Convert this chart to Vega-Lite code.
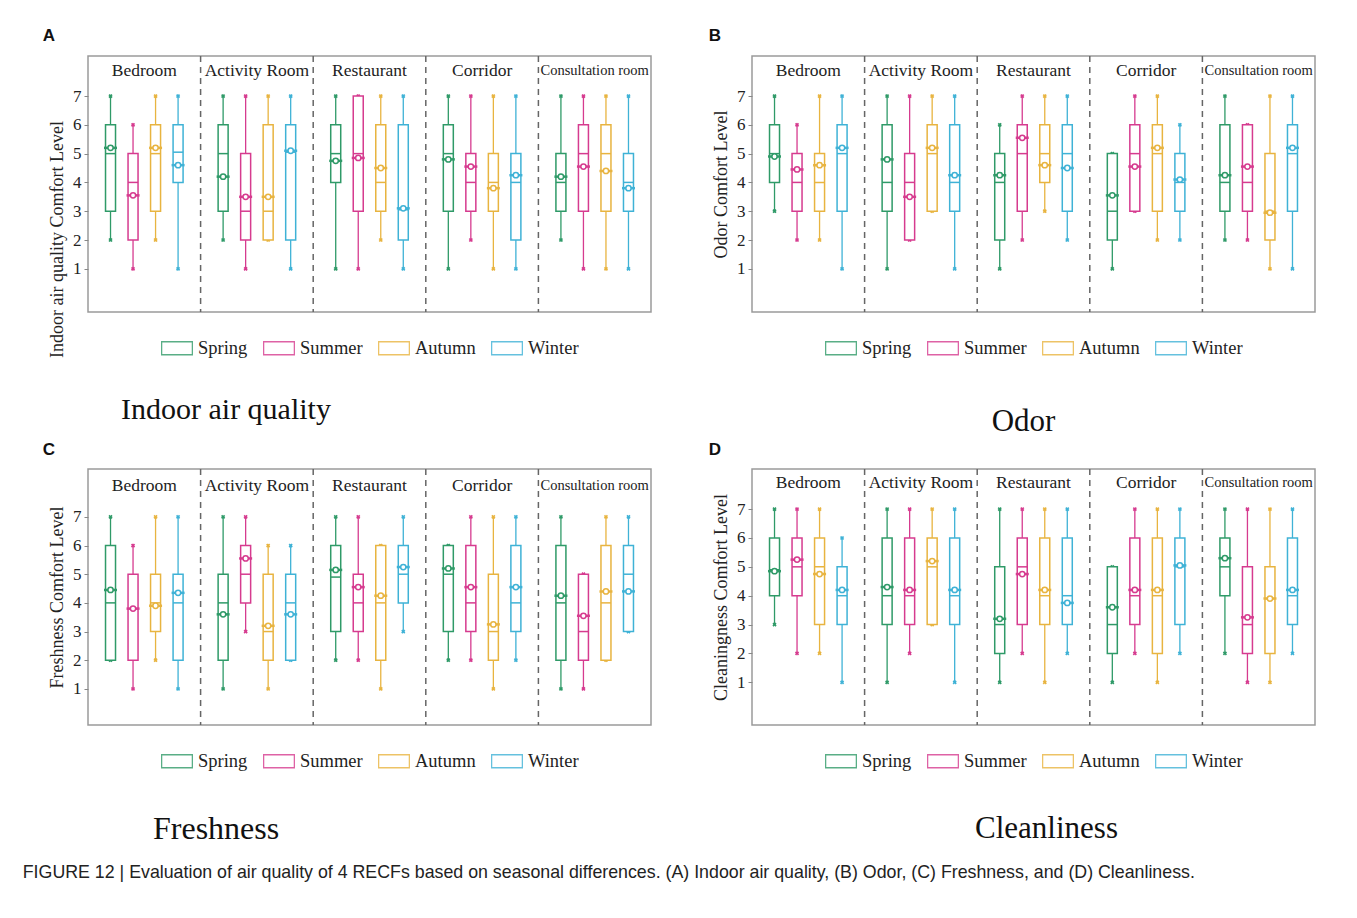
{
  "$schema": "https://vega.github.io/schema/vega-lite/v6.json",
  "background": "white",
  "padding": {"left": 22, "top": 26, "right": 10, "bottom": 30},
  "title": {"text": "FIGURE 12 | Evaluation of air quality of 4 RECFs based on seasonal differences. (A) Indoor air quality, (B) Odor, (C) Freshness, and (D) Cleanliness.", "orient": "bottom", "anchor": "start", "frame": "bounds", "font": "Liberation Sans", "fontSize": 17.8, "fontWeight": "normal", "color": "#222", "offset": 18, "dx": -20},
  "datasets": {
    "rooms": [{"room": "Bedroom"}, {"room": "Activity Room"}, {"room": "Restaurant"}, {"room": "Corridor"}, {"room": "Consultation room"}],
    "seps": [{"room": "Activity Room"}, {"room": "Restaurant"}, {"room": "Corridor"}, {"room": "Consultation room"}],
    "iaq": [
      {"room": "Bedroom", "season": "Spring", "min": 2, "q1": 3, "med": 5, "q3": 6, "max": 7, "mean": 5.2},
      {"room": "Bedroom", "season": "Summer", "min": 1, "q1": 2, "med": 4, "q3": 5, "max": 6, "mean": 3.55},
      {"room": "Bedroom", "season": "Autumn", "min": 2, "q1": 3, "med": 5, "q3": 6, "max": 7, "mean": 5.2},
      {"room": "Bedroom", "season": "Winter", "min": 1, "q1": 4, "med": 5.05, "q3": 6, "max": 7, "mean": 4.6},
      {"room": "Activity Room", "season": "Spring", "min": 2, "q1": 3, "med": 5, "q3": 6, "max": 7, "mean": 4.2},
      {"room": "Activity Room", "season": "Summer", "min": 1, "q1": 2, "med": 3, "q3": 5, "max": 7, "mean": 3.5},
      {"room": "Activity Room", "season": "Autumn", "min": 2, "q1": 2, "med": 3, "q3": 6, "max": 7, "mean": 3.5},
      {"room": "Activity Room", "season": "Winter", "min": 1, "q1": 2, "med": 5.05, "q3": 6, "max": 7, "mean": 5.1},
      {"room": "Restaurant", "season": "Spring", "min": 1, "q1": 4, "med": 5, "q3": 6, "max": 7, "mean": 4.75},
      {"room": "Restaurant", "season": "Summer", "min": 1, "q1": 3, "med": 5, "q3": 7, "max": 7, "mean": 4.85},
      {"room": "Restaurant", "season": "Autumn", "min": 2, "q1": 3, "med": 4, "q3": 6, "max": 7, "mean": 4.5},
      {"room": "Restaurant", "season": "Winter", "min": 1, "q1": 2, "med": 3.05, "q3": 6, "max": 7, "mean": 3.1},
      {"room": "Corridor", "season": "Spring", "min": 1, "q1": 3, "med": 5, "q3": 6, "max": 7, "mean": 4.8},
      {"room": "Corridor", "season": "Summer", "min": 2, "q1": 3, "med": 4, "q3": 5, "max": 7, "mean": 4.55},
      {"room": "Corridor", "season": "Autumn", "min": 1, "q1": 3, "med": 4, "q3": 5, "max": 7, "mean": 3.8},
      {"room": "Corridor", "season": "Winter", "min": 1, "q1": 2, "med": 4, "q3": 5, "max": 7, "mean": 4.25},
      {"room": "Consultation room", "season": "Spring", "min": 2, "q1": 3, "med": 4, "q3": 5, "max": 7, "mean": 4.2},
      {"room": "Consultation room", "season": "Summer", "min": 1, "q1": 3, "med": 5, "q3": 6, "max": 7, "mean": 4.55},
      {"room": "Consultation room", "season": "Autumn", "min": 1, "q1": 3, "med": 5, "q3": 6, "max": 7, "mean": 4.4},
      {"room": "Consultation room", "season": "Winter", "min": 1, "q1": 3, "med": 4, "q3": 5, "max": 7, "mean": 3.8}
    ],
    "odor": [
      {"room": "Bedroom", "season": "Spring", "min": 3, "q1": 4, "med": 5, "q3": 6, "max": 7, "mean": 4.9},
      {"room": "Bedroom", "season": "Summer", "min": 2, "q1": 3, "med": 4, "q3": 5, "max": 6, "mean": 4.45},
      {"room": "Bedroom", "season": "Autumn", "min": 2, "q1": 3, "med": 4, "q3": 5, "max": 7, "mean": 4.6},
      {"room": "Bedroom", "season": "Winter", "min": 1, "q1": 3, "med": 5, "q3": 6, "max": 7, "mean": 5.2},
      {"room": "Activity Room", "season": "Spring", "min": 1, "q1": 3, "med": 4, "q3": 6, "max": 7, "mean": 4.8},
      {"room": "Activity Room", "season": "Summer", "min": 2, "q1": 2, "med": 4, "q3": 5, "max": 7, "mean": 3.5},
      {"room": "Activity Room", "season": "Autumn", "min": 3, "q1": 3, "med": 5, "q3": 6, "max": 7, "mean": 5.2},
      {"room": "Activity Room", "season": "Winter", "min": 1, "q1": 3, "med": 4, "q3": 6, "max": 7, "mean": 4.25},
      {"room": "Restaurant", "season": "Spring", "min": 1, "q1": 2, "med": 4, "q3": 5, "max": 6, "mean": 4.25},
      {"room": "Restaurant", "season": "Summer", "min": 2, "q1": 3, "med": 5, "q3": 6, "max": 7, "mean": 5.55},
      {"room": "Restaurant", "season": "Autumn", "min": 3, "q1": 4, "med": 5, "q3": 6, "max": 7, "mean": 4.6},
      {"room": "Restaurant", "season": "Winter", "min": 2, "q1": 3, "med": 5, "q3": 6, "max": 7, "mean": 4.5},
      {"room": "Corridor", "season": "Spring", "min": 1, "q1": 2, "med": 3, "q3": 5, "max": 5, "mean": 3.55},
      {"room": "Corridor", "season": "Summer", "min": 3, "q1": 3, "med": 5, "q3": 6, "max": 7, "mean": 4.55},
      {"room": "Corridor", "season": "Autumn", "min": 2, "q1": 3, "med": 5, "q3": 6, "max": 7, "mean": 5.2},
      {"room": "Corridor", "season": "Winter", "min": 2, "q1": 3, "med": 4, "q3": 5, "max": 6, "mean": 4.1},
      {"room": "Consultation room", "season": "Spring", "min": 2, "q1": 3, "med": 4, "q3": 6, "max": 7, "mean": 4.25},
      {"room": "Consultation room", "season": "Summer", "min": 2, "q1": 3, "med": 4, "q3": 6, "max": 6, "mean": 4.55},
      {"room": "Consultation room", "season": "Autumn", "min": 1, "q1": 2, "med": 3, "q3": 5, "max": 7, "mean": 2.95},
      {"room": "Consultation room", "season": "Winter", "min": 1, "q1": 3, "med": 5, "q3": 6, "max": 7, "mean": 5.2}
    ],
    "fresh": [
      {"room": "Bedroom", "season": "Spring", "min": 2, "q1": 2, "med": 4, "q3": 6, "max": 7, "mean": 4.45},
      {"room": "Bedroom", "season": "Summer", "min": 1, "q1": 2, "med": 3.8, "q3": 5, "max": 6, "mean": 3.8},
      {"room": "Bedroom", "season": "Autumn", "min": 2, "q1": 3, "med": 4, "q3": 5, "max": 7, "mean": 3.9},
      {"room": "Bedroom", "season": "Winter", "min": 1, "q1": 2, "med": 4, "q3": 5, "max": 7, "mean": 4.35},
      {"room": "Activity Room", "season": "Spring", "min": 1, "q1": 2, "med": 4, "q3": 5, "max": 7, "mean": 3.6},
      {"room": "Activity Room", "season": "Summer", "min": 3, "q1": 4, "med": 5, "q3": 6, "max": 7, "mean": 5.55},
      {"room": "Activity Room", "season": "Autumn", "min": 1, "q1": 2, "med": 3, "q3": 5, "max": 6, "mean": 3.2},
      {"room": "Activity Room", "season": "Winter", "min": 2, "q1": 2, "med": 4, "q3": 5, "max": 6, "mean": 3.6},
      {"room": "Restaurant", "season": "Spring", "min": 2, "q1": 3, "med": 4.9, "q3": 6, "max": 7, "mean": 5.15},
      {"room": "Restaurant", "season": "Summer", "min": 2, "q1": 3, "med": 4, "q3": 5, "max": 7, "mean": 4.55},
      {"room": "Restaurant", "season": "Autumn", "min": 1, "q1": 2, "med": 4, "q3": 6, "max": 6, "mean": 4.25},
      {"room": "Restaurant", "season": "Winter", "min": 3, "q1": 4, "med": 5, "q3": 6, "max": 7, "mean": 5.25},
      {"room": "Corridor", "season": "Spring", "min": 2, "q1": 3, "med": 5, "q3": 6, "max": 6, "mean": 5.2},
      {"room": "Corridor", "season": "Summer", "min": 2, "q1": 3, "med": 4, "q3": 6, "max": 7, "mean": 4.55},
      {"room": "Corridor", "season": "Autumn", "min": 1, "q1": 2, "med": 3, "q3": 5, "max": 7, "mean": 3.25},
      {"room": "Corridor", "season": "Winter", "min": 2, "q1": 3, "med": 4, "q3": 6, "max": 7, "mean": 4.55},
      {"room": "Consultation room", "season": "Spring", "min": 1, "q1": 2, "med": 4, "q3": 6, "max": 7, "mean": 4.25},
      {"room": "Consultation room", "season": "Summer", "min": 1, "q1": 2, "med": 3, "q3": 5, "max": 5, "mean": 3.55},
      {"room": "Consultation room", "season": "Autumn", "min": 2, "q1": 2, "med": 4, "q3": 6, "max": 7, "mean": 4.4},
      {"room": "Consultation room", "season": "Winter", "min": 3, "q1": 3, "med": 5, "q3": 6, "max": 7, "mean": 4.4}
    ],
    "clean": [
      {"room": "Bedroom", "season": "Spring", "min": 3, "q1": 4, "med": 4.9, "q3": 6, "max": 7, "mean": 4.85},
      {"room": "Bedroom", "season": "Summer", "min": 2, "q1": 4, "med": 5, "q3": 6, "max": 7, "mean": 5.25},
      {"room": "Bedroom", "season": "Autumn", "min": 2, "q1": 3, "med": 5, "q3": 6, "max": 7, "mean": 4.75},
      {"room": "Bedroom", "season": "Winter", "min": 1, "q1": 3, "med": 4, "q3": 5, "max": 6, "mean": 4.2},
      {"room": "Activity Room", "season": "Spring", "min": 1, "q1": 3, "med": 4, "q3": 6, "max": 7, "mean": 4.3},
      {"room": "Activity Room", "season": "Summer", "min": 2, "q1": 3, "med": 4, "q3": 6, "max": 7, "mean": 4.2},
      {"room": "Activity Room", "season": "Autumn", "min": 3, "q1": 3, "med": 5, "q3": 6, "max": 7, "mean": 5.2},
      {"room": "Activity Room", "season": "Winter", "min": 1, "q1": 3, "med": 4, "q3": 6, "max": 7, "mean": 4.2},
      {"room": "Restaurant", "season": "Spring", "min": 1, "q1": 2, "med": 3, "q3": 5, "max": 7, "mean": 3.2},
      {"room": "Restaurant", "season": "Summer", "min": 2, "q1": 3, "med": 5, "q3": 6, "max": 7, "mean": 4.75},
      {"room": "Restaurant", "season": "Autumn", "min": 1, "q1": 3, "med": 4, "q3": 6, "max": 7, "mean": 4.2},
      {"room": "Restaurant", "season": "Winter", "min": 2, "q1": 3, "med": 4, "q3": 6, "max": 7, "mean": 3.75},
      {"room": "Corridor", "season": "Spring", "min": 1, "q1": 2, "med": 3, "q3": 5, "max": 5, "mean": 3.6},
      {"room": "Corridor", "season": "Summer", "min": 2, "q1": 3, "med": 4, "q3": 6, "max": 7, "mean": 4.2},
      {"room": "Corridor", "season": "Autumn", "min": 1, "q1": 2, "med": 4, "q3": 6, "max": 7, "mean": 4.2},
      {"room": "Corridor", "season": "Winter", "min": 2, "q1": 3, "med": 5, "q3": 6, "max": 7, "mean": 5.05},
      {"room": "Consultation room", "season": "Spring", "min": 2, "q1": 4, "med": 5, "q3": 6, "max": 7, "mean": 5.3},
      {"room": "Consultation room", "season": "Summer", "min": 1, "q1": 2, "med": 3, "q3": 5, "max": 7, "mean": 3.25},
      {"room": "Consultation room", "season": "Autumn", "min": 1, "q1": 2, "med": 3.9, "q3": 5, "max": 7, "mean": 3.9},
      {"room": "Consultation room", "season": "Winter", "min": 2, "q1": 3, "med": 4, "q3": 6, "max": 7, "mean": 4.2}
    ]
  },
  "resolve": {"legend": {"stroke": "independent", "fill": "independent"}},
  "spacing": 2,
  "vconcat": [
    {
      "spacing": 56,
      "resolve": {"legend": {"stroke": "independent", "fill": "independent"}},
      "hconcat": [
        {
          "title": {"text": "A", "anchor": "start", "frame": "bounds", "font": "Liberation Sans", "fontSize": 17, "fontWeight": "bold", "color": "#111", "offset": 10, "dx": -5},
          "resolve": {"legend": {"stroke": "independent", "fill": "independent"}},
          "vconcat": [
            {
              "width": 563, "height": 256,
              "title": {"text": "Indoor air quality", "orient": "bottom", "anchor": "start", "frame": "group", "dx": 33, "offset": 37, "font": "Liberation Serif", "fontSize": 30, "fontWeight": "normal", "color": "#111"},
              "layer": [
                {"data": {"name": "seps"}, "mark": {"type": "rule", "strokeDash": [6, 5], "color": "#666", "strokeWidth": 1.5},
                 "encoding": {"x": {"field": "room", "type": "nominal", "bandPosition": 0, "scale": {"domain": ["Bedroom", "Activity Room", "Restaurant", "Corridor", "Consultation room"], "paddingInner": 0, "paddingOuter": 0}, "axis": null}}},
                {"data": {"name": "rooms"}, "mark": {"type": "text", "font": "Liberation Serif", "color": "#222", "baseline": "middle"},
                 "encoding": {"x": {"field": "room", "type": "nominal", "scale": {"domain": ["Bedroom", "Activity Room", "Restaurant", "Corridor", "Consultation room"], "paddingInner": 0, "paddingOuter": 0}, "axis": null},
                  "y": {"datum": 7.87, "type": "quantitative", "scale": {"domain": [-0.5, 8.39], "nice": false, "zero": false}, "axis": {"values": [1, 2, 3, 4, 5, 6, 7], "title": "Indoor air quality Comfort Level", "titleY": 183}},
                  "text": {"field": "room"},
                  "size": {"condition": {"test": "datum.room === 'Consultation room'", "value": 14.5}, "value": 17.5}}},
                {"data": {"name": "iaq"},
                 "encoding": {
                   "x": {"field": "room", "type": "nominal", "scale": {"domain": ["Bedroom", "Activity Room", "Restaurant", "Corridor", "Consultation room"], "paddingInner": 0, "paddingOuter": 0}, "axis": null},
                   "xOffset": {"field": "season", "type": "nominal", "scale": {"domain": ["Spring", "Summer", "Autumn", "Winter"], "paddingInner": 0, "paddingOuter": 0.5}}
                 },
                 "layer": [
                   {"mark": {"type": "rule", "strokeWidth": 1.3}, "encoding": {"y": {"field": "min", "type": "quantitative", "scale": {"domain": [-0.5, 8.39], "nice": false, "zero": false}, "axis": {"values": [1, 2, 3, 4, 5, 6, 7], "title": "Indoor air quality Comfort Level", "titleY": 183}}, "y2": {"field": "q1"}, "stroke": {"field": "season", "type": "nominal", "scale": {"domain": ["Spring", "Summer", "Autumn", "Winter"], "range": ["#2f9a68", "#d63b8f", "#e8b440", "#3fb2d6"]}, "legend": {"title": null}}}},
                   {"mark": {"type": "rule", "strokeWidth": 1.3}, "encoding": {"y": {"field": "q3", "type": "quantitative", "scale": {"domain": [-0.5, 8.39], "nice": false, "zero": false}, "axis": {"values": [1, 2, 3, 4, 5, 6, 7], "title": "Indoor air quality Comfort Level", "titleY": 183}}, "y2": {"field": "max"}, "stroke": {"field": "season", "type": "nominal", "scale": {"domain": ["Spring", "Summer", "Autumn", "Winter"], "range": ["#2f9a68", "#d63b8f", "#e8b440", "#3fb2d6"]}, "legend": {"title": null}}}},
                   {"mark": {"type": "point", "shape": "cross", "angle": 45, "size": 18, "filled": true, "opacity": 1}, "encoding": {"y": {"field": "min", "type": "quantitative", "scale": {"domain": [-0.5, 8.39], "nice": false, "zero": false}, "axis": {"values": [1, 2, 3, 4, 5, 6, 7], "title": "Indoor air quality Comfort Level", "titleY": 183}}, "fill": {"field": "season", "type": "nominal", "scale": {"domain": ["Spring", "Summer", "Autumn", "Winter"], "range": ["#2f9a68", "#d63b8f", "#e8b440", "#3fb2d6"]}, "legend": null}}},
                   {"mark": {"type": "point", "shape": "cross", "angle": 45, "size": 18, "filled": true, "opacity": 1}, "encoding": {"y": {"field": "max", "type": "quantitative", "scale": {"domain": [-0.5, 8.39], "nice": false, "zero": false}, "axis": {"values": [1, 2, 3, 4, 5, 6, 7], "title": "Indoor air quality Comfort Level", "titleY": 183}}, "fill": {"field": "season", "type": "nominal", "scale": {"domain": ["Spring", "Summer", "Autumn", "Winter"], "range": ["#2f9a68", "#d63b8f", "#e8b440", "#3fb2d6"]}, "legend": null}}},
                   {"mark": {"type": "bar", "fill": "white", "strokeWidth": 1.5, "size": 10}, "encoding": {"y": {"field": "q1", "type": "quantitative", "scale": {"domain": [-0.5, 8.39], "nice": false, "zero": false}, "axis": {"values": [1, 2, 3, 4, 5, 6, 7], "title": "Indoor air quality Comfort Level", "titleY": 183}}, "y2": {"field": "q3"}, "stroke": {"field": "season", "type": "nominal", "scale": {"domain": ["Spring", "Summer", "Autumn", "Winter"], "range": ["#2f9a68", "#d63b8f", "#e8b440", "#3fb2d6"]}, "legend": {"title": null}}}},
                   {"mark": {"type": "tick", "thickness": 1.5, "size": 10, "opacity": 1}, "encoding": {"y": {"field": "med", "type": "quantitative", "scale": {"domain": [-0.5, 8.39], "nice": false, "zero": false}, "axis": {"values": [1, 2, 3, 4, 5, 6, 7], "title": "Indoor air quality Comfort Level", "titleY": 183}}, "fill": {"field": "season", "type": "nominal", "scale": {"domain": ["Spring", "Summer", "Autumn", "Winter"], "range": ["#2f9a68", "#d63b8f", "#e8b440", "#3fb2d6"]}, "legend": null}}},
                   {"mark": {"type": "tick", "thickness": 2.5, "size": 13, "opacity": 1}, "encoding": {"y": {"field": "mean", "type": "quantitative", "scale": {"domain": [-0.5, 8.39], "nice": false, "zero": false}, "axis": {"values": [1, 2, 3, 4, 5, 6, 7], "title": "Indoor air quality Comfort Level", "titleY": 183}}, "fill": {"field": "season", "type": "nominal", "scale": {"domain": ["Spring", "Summer", "Autumn", "Winter"], "range": ["#2f9a68", "#d63b8f", "#e8b440", "#3fb2d6"]}, "legend": null}}},
                   {"mark": {"type": "point", "shape": "circle", "filled": true, "fill": "white", "size": 28, "strokeWidth": 1.5, "opacity": 1}, "encoding": {"y": {"field": "mean", "type": "quantitative", "scale": {"domain": [-0.5, 8.39], "nice": false, "zero": false}, "axis": {"values": [1, 2, 3, 4, 5, 6, 7], "title": "Indoor air quality Comfort Level", "titleY": 183}}, "stroke": {"field": "season", "type": "nominal", "scale": {"domain": ["Spring", "Summer", "Autumn", "Winter"], "range": ["#2f9a68", "#d63b8f", "#e8b440", "#3fb2d6"]}, "legend": {"title": null}}}}
                 ]}
              ]
            }
          ]
        },
        {
          "title": {"text": "B", "anchor": "start", "frame": "bounds", "font": "Liberation Sans", "fontSize": 17, "fontWeight": "bold", "color": "#111", "offset": 10, "dx": -3},
          "resolve": {"legend": {"stroke": "independent", "fill": "independent"}},
          "vconcat": [
            {
              "width": 563, "height": 256,
              "title": {"text": "Odor", "orient": "bottom", "anchor": "middle", "frame": "group", "dx": -10, "offset": 49, "font": "Liberation Serif", "fontSize": 31, "fontWeight": "normal", "color": "#111"},
              "layer": [
                {"data": {"name": "seps"}, "mark": {"type": "rule", "strokeDash": [6, 5], "color": "#666", "strokeWidth": 1.5},
                 "encoding": {"x": {"field": "room", "type": "nominal", "bandPosition": 0, "scale": {"domain": ["Bedroom", "Activity Room", "Restaurant", "Corridor", "Consultation room"], "paddingInner": 0, "paddingOuter": 0}, "axis": null}}},
                {"data": {"name": "rooms"}, "mark": {"type": "text", "font": "Liberation Serif", "color": "#222", "baseline": "middle"},
                 "encoding": {"x": {"field": "room", "type": "nominal", "scale": {"domain": ["Bedroom", "Activity Room", "Restaurant", "Corridor", "Consultation room"], "paddingInner": 0, "paddingOuter": 0}, "axis": null},
                  "y": {"datum": 7.87, "type": "quantitative", "scale": {"domain": [-0.5, 8.39], "nice": false, "zero": false}, "axis": {"values": [1, 2, 3, 4, 5, 6, 7], "title": "Odor Comfort Level"}},
                  "text": {"field": "room"},
                  "size": {"condition": {"test": "datum.room === 'Consultation room'", "value": 14.5}, "value": 17.5}}},
                {"data": {"name": "odor"},
                 "encoding": {
                   "x": {"field": "room", "type": "nominal", "scale": {"domain": ["Bedroom", "Activity Room", "Restaurant", "Corridor", "Consultation room"], "paddingInner": 0, "paddingOuter": 0}, "axis": null},
                   "xOffset": {"field": "season", "type": "nominal", "scale": {"domain": ["Spring", "Summer", "Autumn", "Winter"], "paddingInner": 0, "paddingOuter": 0.5}}
                 },
                 "layer": [
                   {"mark": {"type": "rule", "strokeWidth": 1.3}, "encoding": {"y": {"field": "min", "type": "quantitative", "scale": {"domain": [-0.5, 8.39], "nice": false, "zero": false}, "axis": {"values": [1, 2, 3, 4, 5, 6, 7], "title": "Odor Comfort Level"}}, "y2": {"field": "q1"}, "stroke": {"field": "season", "type": "nominal", "scale": {"domain": ["Spring", "Summer", "Autumn", "Winter"], "range": ["#2f9a68", "#d63b8f", "#e8b440", "#3fb2d6"]}, "legend": {"title": null}}}},
                   {"mark": {"type": "rule", "strokeWidth": 1.3}, "encoding": {"y": {"field": "q3", "type": "quantitative", "scale": {"domain": [-0.5, 8.39], "nice": false, "zero": false}, "axis": {"values": [1, 2, 3, 4, 5, 6, 7], "title": "Odor Comfort Level"}}, "y2": {"field": "max"}, "stroke": {"field": "season", "type": "nominal", "scale": {"domain": ["Spring", "Summer", "Autumn", "Winter"], "range": ["#2f9a68", "#d63b8f", "#e8b440", "#3fb2d6"]}, "legend": {"title": null}}}},
                   {"mark": {"type": "point", "shape": "cross", "angle": 45, "size": 18, "filled": true, "opacity": 1}, "encoding": {"y": {"field": "min", "type": "quantitative", "scale": {"domain": [-0.5, 8.39], "nice": false, "zero": false}, "axis": {"values": [1, 2, 3, 4, 5, 6, 7], "title": "Odor Comfort Level"}}, "fill": {"field": "season", "type": "nominal", "scale": {"domain": ["Spring", "Summer", "Autumn", "Winter"], "range": ["#2f9a68", "#d63b8f", "#e8b440", "#3fb2d6"]}, "legend": null}}},
                   {"mark": {"type": "point", "shape": "cross", "angle": 45, "size": 18, "filled": true, "opacity": 1}, "encoding": {"y": {"field": "max", "type": "quantitative", "scale": {"domain": [-0.5, 8.39], "nice": false, "zero": false}, "axis": {"values": [1, 2, 3, 4, 5, 6, 7], "title": "Odor Comfort Level"}}, "fill": {"field": "season", "type": "nominal", "scale": {"domain": ["Spring", "Summer", "Autumn", "Winter"], "range": ["#2f9a68", "#d63b8f", "#e8b440", "#3fb2d6"]}, "legend": null}}},
                   {"mark": {"type": "bar", "fill": "white", "strokeWidth": 1.5, "size": 10}, "encoding": {"y": {"field": "q1", "type": "quantitative", "scale": {"domain": [-0.5, 8.39], "nice": false, "zero": false}, "axis": {"values": [1, 2, 3, 4, 5, 6, 7], "title": "Odor Comfort Level"}}, "y2": {"field": "q3"}, "stroke": {"field": "season", "type": "nominal", "scale": {"domain": ["Spring", "Summer", "Autumn", "Winter"], "range": ["#2f9a68", "#d63b8f", "#e8b440", "#3fb2d6"]}, "legend": {"title": null}}}},
                   {"mark": {"type": "tick", "thickness": 1.5, "size": 10, "opacity": 1}, "encoding": {"y": {"field": "med", "type": "quantitative", "scale": {"domain": [-0.5, 8.39], "nice": false, "zero": false}, "axis": {"values": [1, 2, 3, 4, 5, 6, 7], "title": "Odor Comfort Level"}}, "fill": {"field": "season", "type": "nominal", "scale": {"domain": ["Spring", "Summer", "Autumn", "Winter"], "range": ["#2f9a68", "#d63b8f", "#e8b440", "#3fb2d6"]}, "legend": null}}},
                   {"mark": {"type": "tick", "thickness": 2.5, "size": 13, "opacity": 1}, "encoding": {"y": {"field": "mean", "type": "quantitative", "scale": {"domain": [-0.5, 8.39], "nice": false, "zero": false}, "axis": {"values": [1, 2, 3, 4, 5, 6, 7], "title": "Odor Comfort Level"}}, "fill": {"field": "season", "type": "nominal", "scale": {"domain": ["Spring", "Summer", "Autumn", "Winter"], "range": ["#2f9a68", "#d63b8f", "#e8b440", "#3fb2d6"]}, "legend": null}}},
                   {"mark": {"type": "point", "shape": "circle", "filled": true, "fill": "white", "size": 28, "strokeWidth": 1.5, "opacity": 1}, "encoding": {"y": {"field": "mean", "type": "quantitative", "scale": {"domain": [-0.5, 8.39], "nice": false, "zero": false}, "axis": {"values": [1, 2, 3, 4, 5, 6, 7], "title": "Odor Comfort Level"}}, "stroke": {"field": "season", "type": "nominal", "scale": {"domain": ["Spring", "Summer", "Autumn", "Winter"], "range": ["#2f9a68", "#d63b8f", "#e8b440", "#3fb2d6"]}, "legend": {"title": null}}}}
                 ]}
              ]
            }
          ]
        }
      ]
    },
    {
      "spacing": 56,
      "resolve": {"legend": {"stroke": "independent", "fill": "independent"}},
      "hconcat": [
        {
          "title": {"text": "C", "anchor": "start", "frame": "bounds", "font": "Liberation Sans", "fontSize": 17, "fontWeight": "bold", "color": "#111", "offset": 9, "dx": -5},
          "resolve": {"legend": {"stroke": "independent", "fill": "independent"}},
          "vconcat": [
            {
              "width": 563, "height": 256,
              "title": {"text": "Freshness", "orient": "bottom", "anchor": "start", "frame": "group", "dx": 65, "offset": 43, "font": "Liberation Serif", "fontSize": 32, "fontWeight": "normal", "color": "#111"},
              "layer": [
                {"data": {"name": "seps"}, "mark": {"type": "rule", "strokeDash": [6, 5], "color": "#666", "strokeWidth": 1.5},
                 "encoding": {"x": {"field": "room", "type": "nominal", "bandPosition": 0, "scale": {"domain": ["Bedroom", "Activity Room", "Restaurant", "Corridor", "Consultation room"], "paddingInner": 0, "paddingOuter": 0}, "axis": null}}},
                {"data": {"name": "rooms"}, "mark": {"type": "text", "font": "Liberation Serif", "color": "#222", "baseline": "middle"},
                 "encoding": {"x": {"field": "room", "type": "nominal", "scale": {"domain": ["Bedroom", "Activity Room", "Restaurant", "Corridor", "Consultation room"], "paddingInner": 0, "paddingOuter": 0}, "axis": null},
                  "y": {"datum": 8.08, "type": "quantitative", "scale": {"domain": [-0.26, 8.67], "nice": false, "zero": false}, "axis": {"values": [1, 2, 3, 4, 5, 6, 7], "title": "Freshness Comfort Level"}},
                  "text": {"field": "room"},
                  "size": {"condition": {"test": "datum.room === 'Consultation room'", "value": 14.5}, "value": 17.5}}},
                {"data": {"name": "fresh"},
                 "encoding": {
                   "x": {"field": "room", "type": "nominal", "scale": {"domain": ["Bedroom", "Activity Room", "Restaurant", "Corridor", "Consultation room"], "paddingInner": 0, "paddingOuter": 0}, "axis": null},
                   "xOffset": {"field": "season", "type": "nominal", "scale": {"domain": ["Spring", "Summer", "Autumn", "Winter"], "paddingInner": 0, "paddingOuter": 0.5}}
                 },
                 "layer": [
                   {"mark": {"type": "rule", "strokeWidth": 1.3}, "encoding": {"y": {"field": "min", "type": "quantitative", "scale": {"domain": [-0.26, 8.67], "nice": false, "zero": false}, "axis": {"values": [1, 2, 3, 4, 5, 6, 7], "title": "Freshness Comfort Level"}}, "y2": {"field": "q1"}, "stroke": {"field": "season", "type": "nominal", "scale": {"domain": ["Spring", "Summer", "Autumn", "Winter"], "range": ["#2f9a68", "#d63b8f", "#e8b440", "#3fb2d6"]}, "legend": {"title": null}}}},
                   {"mark": {"type": "rule", "strokeWidth": 1.3}, "encoding": {"y": {"field": "q3", "type": "quantitative", "scale": {"domain": [-0.26, 8.67], "nice": false, "zero": false}, "axis": {"values": [1, 2, 3, 4, 5, 6, 7], "title": "Freshness Comfort Level"}}, "y2": {"field": "max"}, "stroke": {"field": "season", "type": "nominal", "scale": {"domain": ["Spring", "Summer", "Autumn", "Winter"], "range": ["#2f9a68", "#d63b8f", "#e8b440", "#3fb2d6"]}, "legend": {"title": null}}}},
                   {"mark": {"type": "point", "shape": "cross", "angle": 45, "size": 18, "filled": true, "opacity": 1}, "encoding": {"y": {"field": "min", "type": "quantitative", "scale": {"domain": [-0.26, 8.67], "nice": false, "zero": false}, "axis": {"values": [1, 2, 3, 4, 5, 6, 7], "title": "Freshness Comfort Level"}}, "fill": {"field": "season", "type": "nominal", "scale": {"domain": ["Spring", "Summer", "Autumn", "Winter"], "range": ["#2f9a68", "#d63b8f", "#e8b440", "#3fb2d6"]}, "legend": null}}},
                   {"mark": {"type": "point", "shape": "cross", "angle": 45, "size": 18, "filled": true, "opacity": 1}, "encoding": {"y": {"field": "max", "type": "quantitative", "scale": {"domain": [-0.26, 8.67], "nice": false, "zero": false}, "axis": {"values": [1, 2, 3, 4, 5, 6, 7], "title": "Freshness Comfort Level"}}, "fill": {"field": "season", "type": "nominal", "scale": {"domain": ["Spring", "Summer", "Autumn", "Winter"], "range": ["#2f9a68", "#d63b8f", "#e8b440", "#3fb2d6"]}, "legend": null}}},
                   {"mark": {"type": "bar", "fill": "white", "strokeWidth": 1.5, "size": 10}, "encoding": {"y": {"field": "q1", "type": "quantitative", "scale": {"domain": [-0.26, 8.67], "nice": false, "zero": false}, "axis": {"values": [1, 2, 3, 4, 5, 6, 7], "title": "Freshness Comfort Level"}}, "y2": {"field": "q3"}, "stroke": {"field": "season", "type": "nominal", "scale": {"domain": ["Spring", "Summer", "Autumn", "Winter"], "range": ["#2f9a68", "#d63b8f", "#e8b440", "#3fb2d6"]}, "legend": {"title": null}}}},
                   {"mark": {"type": "tick", "thickness": 1.5, "size": 10, "opacity": 1}, "encoding": {"y": {"field": "med", "type": "quantitative", "scale": {"domain": [-0.26, 8.67], "nice": false, "zero": false}, "axis": {"values": [1, 2, 3, 4, 5, 6, 7], "title": "Freshness Comfort Level"}}, "fill": {"field": "season", "type": "nominal", "scale": {"domain": ["Spring", "Summer", "Autumn", "Winter"], "range": ["#2f9a68", "#d63b8f", "#e8b440", "#3fb2d6"]}, "legend": null}}},
                   {"mark": {"type": "tick", "thickness": 2.5, "size": 13, "opacity": 1}, "encoding": {"y": {"field": "mean", "type": "quantitative", "scale": {"domain": [-0.26, 8.67], "nice": false, "zero": false}, "axis": {"values": [1, 2, 3, 4, 5, 6, 7], "title": "Freshness Comfort Level"}}, "fill": {"field": "season", "type": "nominal", "scale": {"domain": ["Spring", "Summer", "Autumn", "Winter"], "range": ["#2f9a68", "#d63b8f", "#e8b440", "#3fb2d6"]}, "legend": null}}},
                   {"mark": {"type": "point", "shape": "circle", "filled": true, "fill": "white", "size": 28, "strokeWidth": 1.5, "opacity": 1}, "encoding": {"y": {"field": "mean", "type": "quantitative", "scale": {"domain": [-0.26, 8.67], "nice": false, "zero": false}, "axis": {"values": [1, 2, 3, 4, 5, 6, 7], "title": "Freshness Comfort Level"}}, "stroke": {"field": "season", "type": "nominal", "scale": {"domain": ["Spring", "Summer", "Autumn", "Winter"], "range": ["#2f9a68", "#d63b8f", "#e8b440", "#3fb2d6"]}, "legend": {"title": null}}}}
                 ]}
              ]
            }
          ]
        },
        {
          "title": {"text": "D", "anchor": "start", "frame": "bounds", "font": "Liberation Sans", "fontSize": 17, "fontWeight": "bold", "color": "#111", "offset": 9, "dx": -3},
          "resolve": {"legend": {"stroke": "independent", "fill": "independent"}},
          "vconcat": [
            {
              "width": 563, "height": 256,
              "title": {"text": "Cleanliness", "orient": "bottom", "anchor": "middle", "frame": "group", "dx": 13, "offset": 43, "font": "Liberation Serif", "fontSize": 31, "fontWeight": "normal", "color": "#111"},
              "layer": [
                {"data": {"name": "seps"}, "mark": {"type": "rule", "strokeDash": [6, 5], "color": "#666", "strokeWidth": 1.5},
                 "encoding": {"x": {"field": "room", "type": "nominal", "bandPosition": 0, "scale": {"domain": ["Bedroom", "Activity Room", "Restaurant", "Corridor", "Consultation room"], "paddingInner": 0, "paddingOuter": 0}, "axis": null}}},
                {"data": {"name": "rooms"}, "mark": {"type": "text", "font": "Liberation Serif", "color": "#222", "baseline": "middle"},
                 "encoding": {"x": {"field": "room", "type": "nominal", "scale": {"domain": ["Bedroom", "Activity Room", "Restaurant", "Corridor", "Consultation room"], "paddingInner": 0, "paddingOuter": 0}, "axis": null},
                  "y": {"datum": 7.9, "type": "quantitative", "scale": {"domain": [-0.48, 8.39], "nice": false, "zero": false}, "axis": {"values": [1, 2, 3, 4, 5, 6, 7], "title": "Cleaningness  Comfort Level"}},
                  "text": {"field": "room"},
                  "size": {"condition": {"test": "datum.room === 'Consultation room'", "value": 14.5}, "value": 17.5}}},
                {"data": {"name": "clean"},
                 "encoding": {
                   "x": {"field": "room", "type": "nominal", "scale": {"domain": ["Bedroom", "Activity Room", "Restaurant", "Corridor", "Consultation room"], "paddingInner": 0, "paddingOuter": 0}, "axis": null},
                   "xOffset": {"field": "season", "type": "nominal", "scale": {"domain": ["Spring", "Summer", "Autumn", "Winter"], "paddingInner": 0, "paddingOuter": 0.5}}
                 },
                 "layer": [
                   {"mark": {"type": "rule", "strokeWidth": 1.3}, "encoding": {"y": {"field": "min", "type": "quantitative", "scale": {"domain": [-0.48, 8.39], "nice": false, "zero": false}, "axis": {"values": [1, 2, 3, 4, 5, 6, 7], "title": "Cleaningness  Comfort Level"}}, "y2": {"field": "q1"}, "stroke": {"field": "season", "type": "nominal", "scale": {"domain": ["Spring", "Summer", "Autumn", "Winter"], "range": ["#2f9a68", "#d63b8f", "#e8b440", "#3fb2d6"]}, "legend": {"title": null}}}},
                   {"mark": {"type": "rule", "strokeWidth": 1.3}, "encoding": {"y": {"field": "q3", "type": "quantitative", "scale": {"domain": [-0.48, 8.39], "nice": false, "zero": false}, "axis": {"values": [1, 2, 3, 4, 5, 6, 7], "title": "Cleaningness  Comfort Level"}}, "y2": {"field": "max"}, "stroke": {"field": "season", "type": "nominal", "scale": {"domain": ["Spring", "Summer", "Autumn", "Winter"], "range": ["#2f9a68", "#d63b8f", "#e8b440", "#3fb2d6"]}, "legend": {"title": null}}}},
                   {"mark": {"type": "point", "shape": "cross", "angle": 45, "size": 18, "filled": true, "opacity": 1}, "encoding": {"y": {"field": "min", "type": "quantitative", "scale": {"domain": [-0.48, 8.39], "nice": false, "zero": false}, "axis": {"values": [1, 2, 3, 4, 5, 6, 7], "title": "Cleaningness  Comfort Level"}}, "fill": {"field": "season", "type": "nominal", "scale": {"domain": ["Spring", "Summer", "Autumn", "Winter"], "range": ["#2f9a68", "#d63b8f", "#e8b440", "#3fb2d6"]}, "legend": null}}},
                   {"mark": {"type": "point", "shape": "cross", "angle": 45, "size": 18, "filled": true, "opacity": 1}, "encoding": {"y": {"field": "max", "type": "quantitative", "scale": {"domain": [-0.48, 8.39], "nice": false, "zero": false}, "axis": {"values": [1, 2, 3, 4, 5, 6, 7], "title": "Cleaningness  Comfort Level"}}, "fill": {"field": "season", "type": "nominal", "scale": {"domain": ["Spring", "Summer", "Autumn", "Winter"], "range": ["#2f9a68", "#d63b8f", "#e8b440", "#3fb2d6"]}, "legend": null}}},
                   {"mark": {"type": "bar", "fill": "white", "strokeWidth": 1.5, "size": 10}, "encoding": {"y": {"field": "q1", "type": "quantitative", "scale": {"domain": [-0.48, 8.39], "nice": false, "zero": false}, "axis": {"values": [1, 2, 3, 4, 5, 6, 7], "title": "Cleaningness  Comfort Level"}}, "y2": {"field": "q3"}, "stroke": {"field": "season", "type": "nominal", "scale": {"domain": ["Spring", "Summer", "Autumn", "Winter"], "range": ["#2f9a68", "#d63b8f", "#e8b440", "#3fb2d6"]}, "legend": {"title": null}}}},
                   {"mark": {"type": "tick", "thickness": 1.5, "size": 10, "opacity": 1}, "encoding": {"y": {"field": "med", "type": "quantitative", "scale": {"domain": [-0.48, 8.39], "nice": false, "zero": false}, "axis": {"values": [1, 2, 3, 4, 5, 6, 7], "title": "Cleaningness  Comfort Level"}}, "fill": {"field": "season", "type": "nominal", "scale": {"domain": ["Spring", "Summer", "Autumn", "Winter"], "range": ["#2f9a68", "#d63b8f", "#e8b440", "#3fb2d6"]}, "legend": null}}},
                   {"mark": {"type": "tick", "thickness": 2.5, "size": 13, "opacity": 1}, "encoding": {"y": {"field": "mean", "type": "quantitative", "scale": {"domain": [-0.48, 8.39], "nice": false, "zero": false}, "axis": {"values": [1, 2, 3, 4, 5, 6, 7], "title": "Cleaningness  Comfort Level"}}, "fill": {"field": "season", "type": "nominal", "scale": {"domain": ["Spring", "Summer", "Autumn", "Winter"], "range": ["#2f9a68", "#d63b8f", "#e8b440", "#3fb2d6"]}, "legend": null}}},
                   {"mark": {"type": "point", "shape": "circle", "filled": true, "fill": "white", "size": 28, "strokeWidth": 1.5, "opacity": 1}, "encoding": {"y": {"field": "mean", "type": "quantitative", "scale": {"domain": [-0.48, 8.39], "nice": false, "zero": false}, "axis": {"values": [1, 2, 3, 4, 5, 6, 7], "title": "Cleaningness  Comfort Level"}}, "stroke": {"field": "season", "type": "nominal", "scale": {"domain": ["Spring", "Summer", "Autumn", "Winter"], "range": ["#2f9a68", "#d63b8f", "#e8b440", "#3fb2d6"]}, "legend": {"title": null}}}}
                 ]}
              ]
            }
          ]
        }
      ]
    }
  ],
  "config": {
    "view": {"stroke": "#9a9a9a", "strokeWidth": 1.5},
    "axisY": {"labelFont": "Liberation Serif", "labelFontSize": 17, "labelColor": "#222", "tickColor": "#888", "tickSize": 4, "labelPadding": 3, "domain": false, "grid": false, "titleFont": "Liberation Serif", "titleFontSize": 18, "titleFontWeight": "normal", "titleColor": "#222", "titlePadding": 6},
    "legend": {"orient": "none", "legendX": 73, "legendY": 276, "direction": "horizontal", "columns": 4, "columnPadding": 15, "labelFont": "Liberation Serif", "labelFontSize": 18.5, "labelColor": "#222", "labelOffset": 5, "symbolType": "M-1,-0.45H1V0.45H-1Z M-0.92,-0.36V0.36H0.92V-0.36Z", "symbolSize": 1024, "symbolStrokeWidth": 0, "symbolOpacity": 0.8, "padding": 0}
  }
}
